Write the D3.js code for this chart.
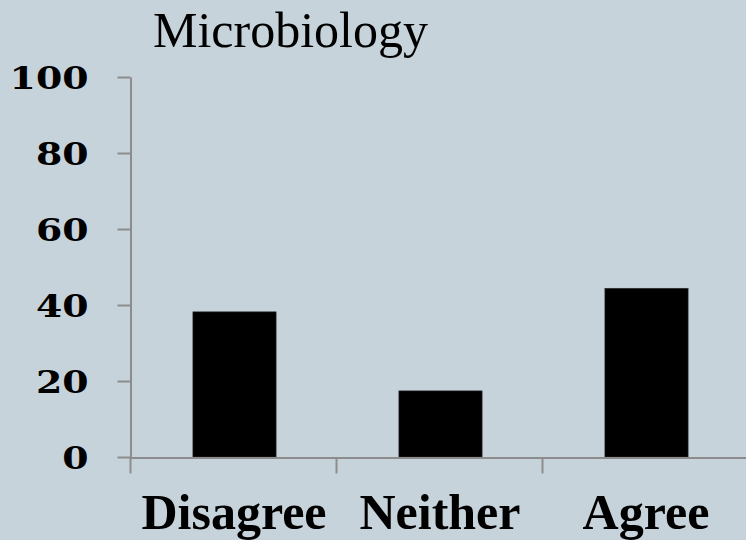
<!DOCTYPE html>
<html><head><meta charset="utf-8">
<script src="https://cdn.jsdelivr.net/npm/d3@7"></script>
<style>
html,body{margin:0;padding:0;background:#c7d3da;}
svg{display:block;}
</style></head>
<body>
<script>
const categories = ["Disagree", "Neither", "Agree"];
const values = [38.2, 17.4, 44.4];
const yTicks = [0, 20, 40, 60, 80, 100];
const title = "Microbiology";

const W = 746, H = 540;
const svg = d3.select("body").append("svg").attr("width", W).attr("height", H);
svg.append("rect").attr("width", W).attr("height", H).attr("fill", "#c7d3da");

const x = d3.scaleBand().domain(categories).range([130, 748]).padding(0);
const y = d3.scaleLinear().domain([0, 100]).range([457, 77]);
const barFrac = 0.404;

// bars
svg.selectAll("rect.bar").data(values).join("rect")
  .attr("class", "bar")
  .attr("x", (d, i) => x(categories[i]) + 1.5 + x.bandwidth() * (1 - barFrac) / 2)
  .attr("width", x.bandwidth() * barFrac)
  .attr("y", d => y(d))
  .attr("height", d => y(0) - y(d))
  .attr("fill", "#000")
  .attr("stroke", "#333").attr("stroke-width", 0.6);

const axisColor = "#8c8c8c";
// y axis
const yAxis = svg.append("g").attr("transform", "translate(130.5,0)")
  .call(d3.axisLeft(y).tickValues(yTicks).tickSize(13).tickSizeOuter(0));
yAxis.select(".domain").attr("stroke", axisColor).attr("stroke-width", 2);
yAxis.selectAll(".tick line").attr("stroke", axisColor).attr("stroke-width", 2);
yAxis.selectAll(".tick text").remove();
const sx = 1.22;
yAxis.selectAll(".tick").append("text")
  .attr("dy", "0.36em")
  .attr("text-anchor", "end")
  .attr("fill", "#000")
  .attr("font-family", "'DejaVu Serif', serif")
  .attr("font-weight", "bold")
  .attr("font-size", 31)
  .attr("transform", `scale(${sx},1)`)
  .attr("x", -42 / sx)
  .text(d => d);

// x axis
const xAxis = svg.append("g").attr("transform", "translate(0,457.5)")
  .call(d3.axisBottom(x).tickSize(0).tickSizeOuter(0));
xAxis.select(".domain").attr("stroke", axisColor).attr("stroke-width", 2);
xAxis.selectAll(".tick").remove();
// boundary ticks between categories
const bounds = categories.map(c => x(c));
xAxis.selectAll("line.bt").data(bounds).join("line")
  .attr("class", "bt")
  .attr("x1", d => d + 0.5).attr("x2", d => d + 0.5)
  .attr("y1", 0).attr("y2", 16)
  .attr("stroke", axisColor).attr("stroke-width", 2);
// category labels
svg.selectAll("text.cat").data(categories).join("text")
  .attr("class", "cat")
  .attr("x", d => x(d) + x.bandwidth() / 2 + 1)
  .attr("y", 529)
  .attr("text-anchor", "middle")
  .attr("font-family", "'Liberation Serif', serif")
  .attr("font-weight", "bold")
  .attr("font-size", 50)
  .attr("fill", "#000")
  .text(d => d);

// title
svg.append("text")
  .attr("x", 153).attr("y", 47)
  .attr("font-family", "'Liberation Serif', serif")
  .attr("font-size", 50)
  .attr("fill", "#000")
  .text(title);
</script>
</body></html>
